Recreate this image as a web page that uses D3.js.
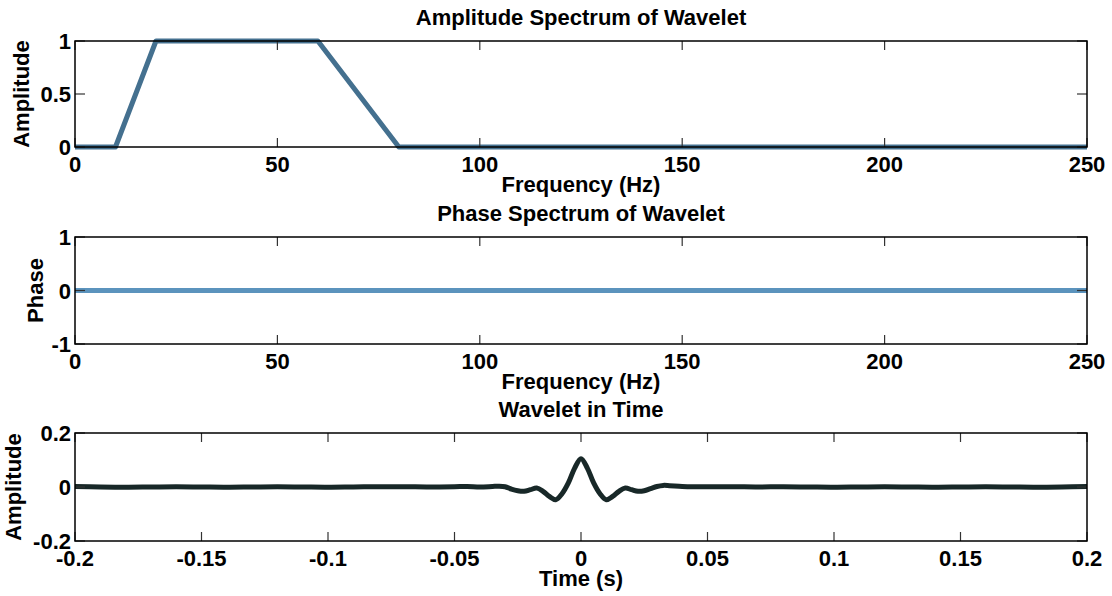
<!DOCTYPE html>
<html><head><meta charset="utf-8">
<script src="https://cdn.jsdelivr.net/npm/d3@7"></script>
<style>
body{margin:0;background:#fff;}
svg{display:block;font-family:"Liberation Sans",Arial,sans-serif;font-weight:bold;}
</style></head>
<body><svg id="c" width="1112" height="596"></svg>
<script>
// ---- data ----
const ampFreq = [0, 10, 20, 60, 80, 250];
const ampValue = [0, 0, 1, 1, 0, 0];
const phaseFreq = [0, 250];
const phaseValue = [0, 0];
const waveTime = [-0.2,-0.19,-0.18,-0.17,-0.16,-0.15,-0.14,-0.13,-0.12,-0.11,-0.1,-0.09,-0.08,-0.07,-0.06,-0.05,-0.045,-0.04,-0.035,-0.0325,-0.03,-0.0275,-0.025,-0.0225,-0.02,-0.0175,-0.015,-0.0125,-0.01,-0.0075,-0.005,-0.0025,0,
  0.0025,0.005,0.0075,0.01,0.0125,0.015,0.0175,0.02,0.0225,0.025,0.0275,0.03,0.0325,0.035,0.04,0.045,0.05,0.06,0.07,0.08,0.09,0.1,0.11,0.12,0.13,0.14,0.15,0.16,0.17,0.18,0.19,0.2];
const waveAmp = [0.002,0.000,-0.001,0.000,0.001,0.000,-0.001,0.000,0.001,0.000,-0.001,0.000,0.001,0.001,0.000,0.001,0.002,0.000,0.002,0.003,0.001,-0.008,-0.014,-0.016,-0.010,-0.004,-0.016,-0.035,-0.047,-0.025,0.015,0.070,0.105,
  0.070,0.015,-0.025,-0.047,-0.035,-0.016,-0.004,-0.010,-0.016,-0.014,-0.006,0.002,0.006,0.005,0.002,0.001,0.001,0.001,0.000,0.001,0.000,-0.001,0.000,0.001,0.000,-0.001,0.000,0.001,0.000,-0.001,0.000,0.002];
const freqTicks = [0, 50, 100, 150, 200, 250];
const ampTicks = [0, 0.5, 1];
const phaseTicks = [-1, 0, 1];
const timeTicks = [-0.2, -0.15, -0.1, -0.05, 0, 0.05, 0.1, 0.15, 0.2];
const waveTicks = [-0.2, 0, 0.2];

const svg = d3.select("#c");
const L = 75, R = 1087;
const FS = 22;

function panel(o){
  const x = d3.scaleLinear().domain(o.xd).range([L, R]);
  const y = d3.scaleLinear().domain(o.yd).range([o.bottom, o.top]);
  const g = svg.append("g");
  // line
  g.append("path")
    .datum(o.xs.map((v,i)=>[v,o.ys[i]]))
    .attr("fill","none").attr("stroke",o.color).attr("stroke-width",5)
    .attr("stroke-linejoin","round")
    .attr("d", d3.line().x(d=>x(d[0])).y(d=>y(d[1])).curve(o.curve||d3.curveLinear));
  // ticks (inward, all sides)
  const tk = g.append("g").attr("stroke","#333").attr("stroke-width",1.2);
  o.xt.forEach(t=>{
    tk.append("line").attr("x1",x(t)).attr("x2",x(t)).attr("y1",o.bottom).attr("y2",o.bottom-9);
    tk.append("line").attr("x1",x(t)).attr("x2",x(t)).attr("y1",o.top).attr("y2",o.top+9);
  });
  o.yt.forEach(t=>{
    tk.append("line").attr("x1",L).attr("x2",L+10).attr("y1",y(t)).attr("y2",y(t));
    tk.append("line").attr("x1",R).attr("x2",R-10).attr("y1",y(t)).attr("y2",y(t));
  });
  // box
  g.append("rect").attr("x",L).attr("y",o.top).attr("width",R-L).attr("height",o.bottom-o.top)
    .attr("fill","none").attr("stroke","#000").attr("stroke-width",1.5);
  // tick labels
  o.xt.forEach((t,i)=>{
    g.append("text").attr("x",x(t)).attr("y",o.bottom+25).attr("text-anchor","middle")
      .attr("font-size",FS).text(o.xl[i]);
  });
  o.yt.forEach(t=>{
    g.append("text").attr("x",71).attr("y",y(t)+8).attr("text-anchor","end")
      .attr("font-size",FS).text(String(t));
  });
  // title & labels
  g.append("text").attr("x",(L+R)/2).attr("y",o.top-16).attr("text-anchor","middle")
    .attr("font-size",FS).text(o.title);
  g.append("text").attr("x",(L+R)/2).attr("y",o.bottom+45).attr("text-anchor","middle")
    .attr("font-size",FS).text(o.xlabel);
  g.append("text").attr("transform",`translate(${o.ylx},${(o.top+o.bottom)/2}) rotate(-90)`)
    .attr("text-anchor","middle").attr("font-size",FS).text(o.ylabel);
}

panel({xd:[0,250], yd:[0,1], top:41, bottom:147, xs:ampFreq, ys:ampValue, color:"#44708f",
  xt:freqTicks, xl:freqTicks.map(String), yt:ampTicks, title:"Amplitude Spectrum of Wavelet",
  xlabel:"Frequency (Hz)", ylabel:"Amplitude", ylx:29});
panel({xd:[0,250], yd:[-1,1], top:237, bottom:344, xs:phaseFreq, ys:phaseValue, color:"#5b93bd",
  xt:freqTicks, xl:freqTicks.map(String), yt:phaseTicks, title:"Phase Spectrum of Wavelet",
  xlabel:"Frequency (Hz)", ylabel:"Phase", ylx:43});
panel({xd:[-0.2,0.2], yd:[-0.2,0.2], top:433, bottom:541, xs:waveTime, ys:waveAmp, color:"#182828",
  curve:d3.curveCatmullRom, xt:timeTicks, xl:timeTicks.map(String), yt:waveTicks,
  title:"Wavelet in Time", xlabel:"Time (s)", ylabel:"Amplitude", ylx:21});
</script></body></html>
